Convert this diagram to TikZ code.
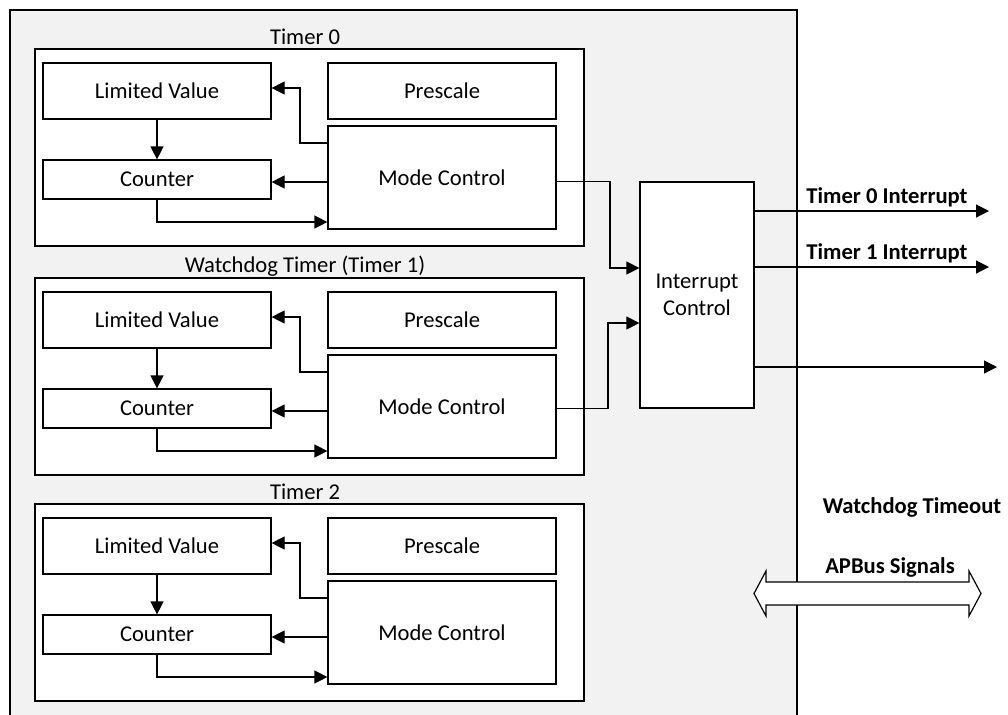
\documentclass[tikz,border=0pt]{standalone}
\usepackage{fontspec}
\setmainfont{Carlito}
\usetikzlibrary{arrows.meta,positioning}
\definecolor{bggray}{RGB}{242,242,242}

\begin{document}
\begin{tikzpicture}[x=0.5pt,y=-0.5pt,
		font=\fontsize{11.3}{13.5}\selectfont,
		blk/.style={draw,fill=white,line width=0.6pt,inner sep=0pt,align=center},
		arr/.style={-{Triangle[length=6.5pt,width=6.5pt]},line width=0.6pt},
		lbl/.style={font=\fontsize{11.3}{13.5}\selectfont\bfseries,inner sep=0pt}]
	\useasboundingbox (0,0) rectangle (1008,714);
	\fill[bggray] (10,10) rectangle (797,716);
	\draw[line width=0.6pt] (10,716) -- (10,10) -- (797,10) -- (797,716);
	% three timer blocks
	\foreach \t/\off/\ttl in {0/0/Timer 0, 1/229/Watchdog Timer (Timer 1), 2/455/Timer 2}{
		\begin{scope}[shift={(0,\off)}]
			\node[blk,minimum width=274.5pt,minimum height=98.5pt] (tmr\t) at (309.5,147.5) {};
			\node[inner sep=0pt] (ttl\t) at (305,37) {\ttl};
			\node[blk,minimum width=114pt,minimum height=28pt] (lim\t) at (157,91) {Limited Value};
			\node[blk,minimum width=114pt,minimum height=19.5pt] (cnt\t) at (157,179.5) {Counter};
			\node[blk,minimum width=114pt,minimum height=28pt] (pre\t) at (442,91) {Prescale};
			\node[blk,minimum width=114pt,minimum height=51.5pt] (mode\t) at (442,177.5) {Mode Control};
			\draw[arr] (lim\t) -- (cnt\t);
			\draw[arr] (mode\t.west |- 0,143) -| (300,88) -- (lim\t.east |- 0,88);
			\draw[arr] (mode\t.west |- 0,182) -- (cnt\t.east |- 0,182);
			\draw[arr] (cnt\t.south) |- (mode\t.west |- 0,222);
		\end{scope}
	}
	% interrupt control
	\node[blk,minimum width=57pt,minimum height=113pt] (ic) at (697,295) {Interrupt\\Control};
	\draw[arr] (mode0.east |- ic.north) -| (610,268) -- (ic.west |- 0,268);
	\draw[arr] (mode1.east |- ic.south) -| (608,323) -- (ic.west |- 0,323);
	% outputs
	\coordinate (irq0) at (989,211);
	\coordinate (irq1) at (989,267);
	\coordinate (wdt) at (997,367);
	\draw[arr] (ic.east |- irq0) -- (irq0);
	\draw[arr] (ic.east |- irq1) -- (irq1);
	\draw[arr] (ic.east |- wdt) -- (wdt);
	\node[lbl] (irq0txt) at (887,197) {Timer 0 Interrupt};
	\node[lbl] (irq1txt) at (887,253) {Timer 1 Interrupt};
	\node[lbl] (wdttxt) at (912,507) {Watchdog Timeout};
	% bus
	\draw[line width=0.6pt,fill=white] (754,593.5) -- (766,571) -- (766,582) -- (969,582) -- (969,571)
		-- (981,593.5) -- (969,616) -- (969,605) -- (766,605) -- (766,616) -- cycle;
	\node[lbl] (apbus) at (890,567) {APBus Signals};
\end{tikzpicture}
\end{document}
